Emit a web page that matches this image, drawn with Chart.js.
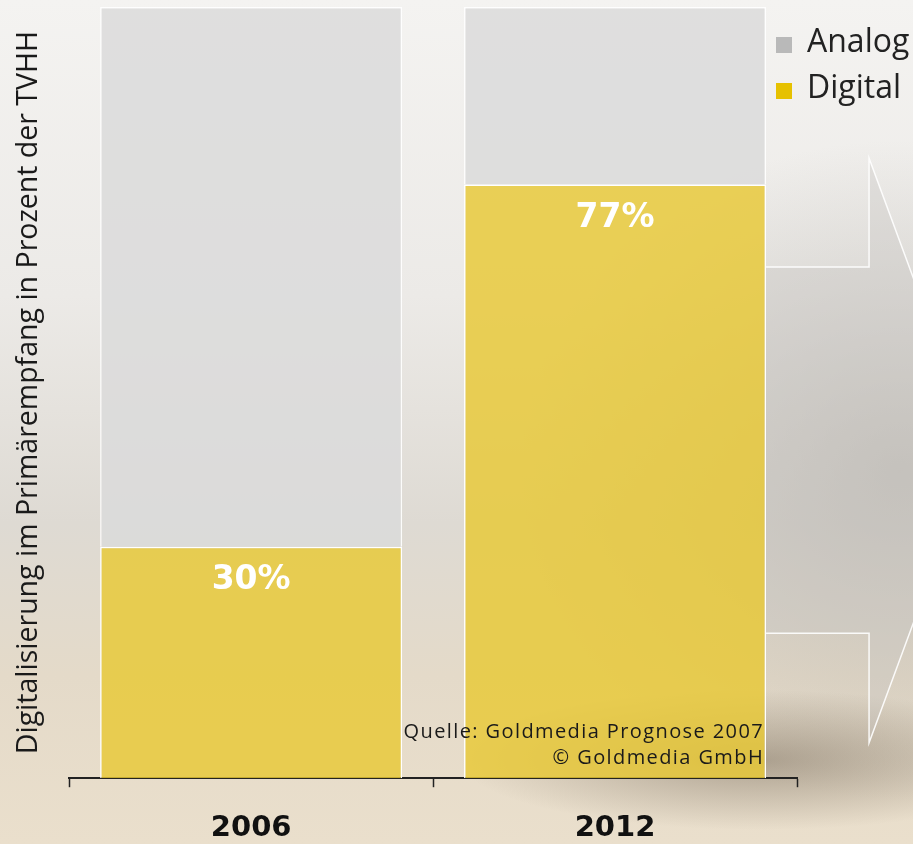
<!DOCTYPE html>
<html>
<head>
<meta charset="utf-8">
<script src="https://cdn.jsdelivr.net/npm/chart.js@4.4.0/dist/chart.umd.min.js"></script>
<style>
  body {
    margin: 0;
    width: 913px;
    height: 844px;
    overflow: hidden;
    background:
      radial-gradient(ellipse 300px 70px at 760px 760px, rgba(125,112,95,0.55), rgba(125,112,95,0) 100%),
      radial-gradient(ellipse 380px 330px at 900px 470px, rgba(175,172,166,0.6), rgba(175,172,166,0) 100%),
      linear-gradient(180deg, #f4f3f1 0%, #eceae7 35%, #dedad3 62%, #e4dac9 80%, #eadfcc 100%);
  }
  #wrap { position: absolute; left: 0; top: 0; }
</style>
</head>
<body>
<div id="wrap"><canvas id="digiChart" width="913" height="844"></canvas></div>
<script>
// ---------------- data ----------------
let years = ["2006", "2012"];
let digitalData = [30, 77];
let analogData = [70, 23];
let axisTitle = "Digitalisierung im Primärempfang in Prozent der TVHH";
let sourceLines = ["Quelle: Goldmedia Prognose 2007", "© Goldmedia GmbH"];

let fontMain = "'Open Sans', 'DejaVu Sans', sans-serif";
let fontBold = "'DejaVu Sans', sans-serif";

// ------------- decorative arrow behind the bars -------------
const arrowPlugin = {
  id: "arrowBg",
  beforeDatasetsDraw(chart) {
    let c = chart.ctx;
    let bar = chart.getDatasetMeta(0).data[1];
    let x0 = bar.x + bar.width / 2;
    let y = chart.scales.y;
    let shaftTop = y.getPixelForValue(66.3);
    let shaftBot = y.getPixelForValue(18.8);
    let headTop = y.getPixelForValue(80.4);
    let headBot = y.getPixelForValue(4.6);
    let xs = x0 + 103;
    c.save();
    c.beginPath();
    c.moveTo(x0, shaftTop);
    c.lineTo(xs, shaftTop);
    c.lineTo(xs, headTop);
    c.lineTo(xs + 108, (headTop + headBot) / 2);
    c.lineTo(xs, headBot);
    c.lineTo(xs, shaftBot);
    c.lineTo(x0, shaftBot);
    c.fillStyle = "rgba(200,198,194,0.35)";
    c.fill();
    c.strokeStyle = "rgba(255,255,255,0.9)";
    c.lineWidth = 1.5;
    c.stroke();
    c.restore();
  },
};

// ------------- value labels + legend + source -------------
const labelPlugin = {
  id: "labels",
  afterDatasetsDraw(chart) {
    let c = chart.ctx;
    c.save();
    // percent labels at the top of the digital bars
    c.fillStyle = "#ffffff";
    c.font = "bold 33px " + fontBold;
    c.textAlign = "center";
    c.textBaseline = "middle";
    chart.getDatasetMeta(0).data.forEach((bar, i) => {
      c.fillText(digitalData[i] + "%", bar.x, bar.y + 34);
    });

    // source text, right aligned to the second bar
    let bar2 = chart.getDatasetMeta(0).data[1];
    let rx = bar2.x + bar2.width / 2 - 2;
    c.fillStyle = "#1a1a1a";
    c.font = "20px " + fontMain;
    c.letterSpacing = "1.4px";
    c.textAlign = "right";
    c.fillText(sourceLines[0], rx, chart.chartArea.bottom - 46);
    c.fillText(sourceLines[1], rx, chart.chartArea.bottom - 20);
    c.letterSpacing = "0px";

    // legend (Analog above Digital)
    let items = chart.data.datasets.slice().reverse();
    c.textAlign = "left";
    c.textBaseline = "alphabetic";
    c.font = "32px " + fontMain;
    items.forEach((ds, i) => {
      let base = 52 + i * 46;
      c.fillStyle = ds.legendColor;
      c.fillRect(776, base - 15, 16, 16);
      c.fillStyle = "#222222";
      c.fillText(ds.label, 807, base);
    });
    c.restore();
  },
};

const ctx = document.getElementById("digiChart");

new Chart(ctx, {
  type: "bar",
  data: {
    labels: years,
    datasets: [
      {
        label: "Digital",
        data: digitalData,
        backgroundColor: "rgba(232, 200, 52, 0.82)",
        legendColor: "#e6c100",
        borderColor: "#ffffff",
        borderWidth: 1.5,
        borderSkipped: "bottom",
        barPercentage: 0.83,
        categoryPercentage: 1,
      },
      {
        label: "Analog",
        data: analogData,
        backgroundColor: "rgba(218, 218, 218, 0.85)",
        legendColor: "#b9b9b9",
        borderColor: "rgba(255,255,255,0.9)",
        borderWidth: 1.5,
        borderSkipped: "bottom",
        barPercentage: 0.83,
        categoryPercentage: 1,
      },
    ],
  },
  options: {
    responsive: false,
    animation: false,
    layout: {
      padding: { left: 8, right: 116, top: 7, bottom: -26 },
    },
    plugins: {
      legend: { display: false },
      tooltip: { enabled: false },
    },
    scales: {
      x: {
        stacked: true,
        offset: true,
        grid: {
          offset: true,
          drawOnChartArea: false,
          drawTicks: true,
          tickLength: 9,
          tickWidth: 1.5,
          tickColor: "#222222",
        },
        border: { display: true, color: "#222222", width: 2 },
        ticks: {
          color: "#111111",
          padding: 24,
          font: { family: fontBold, size: 29, weight: "bold" },
        },
      },
      y: {
        stacked: true,
        min: 0,
        max: 100,
        grid: { display: false },
        border: { display: false },
        ticks: { display: false },
        title: {
          display: true,
          text: axisTitle,
          color: "#1a1a1a",
          padding: { top: 4, bottom: 15 },
          font: { family: fontMain, size: 28.5 },
        },
      },
    },
  },
  plugins: [arrowPlugin, labelPlugin],
});
</script>
</body>
</html>
